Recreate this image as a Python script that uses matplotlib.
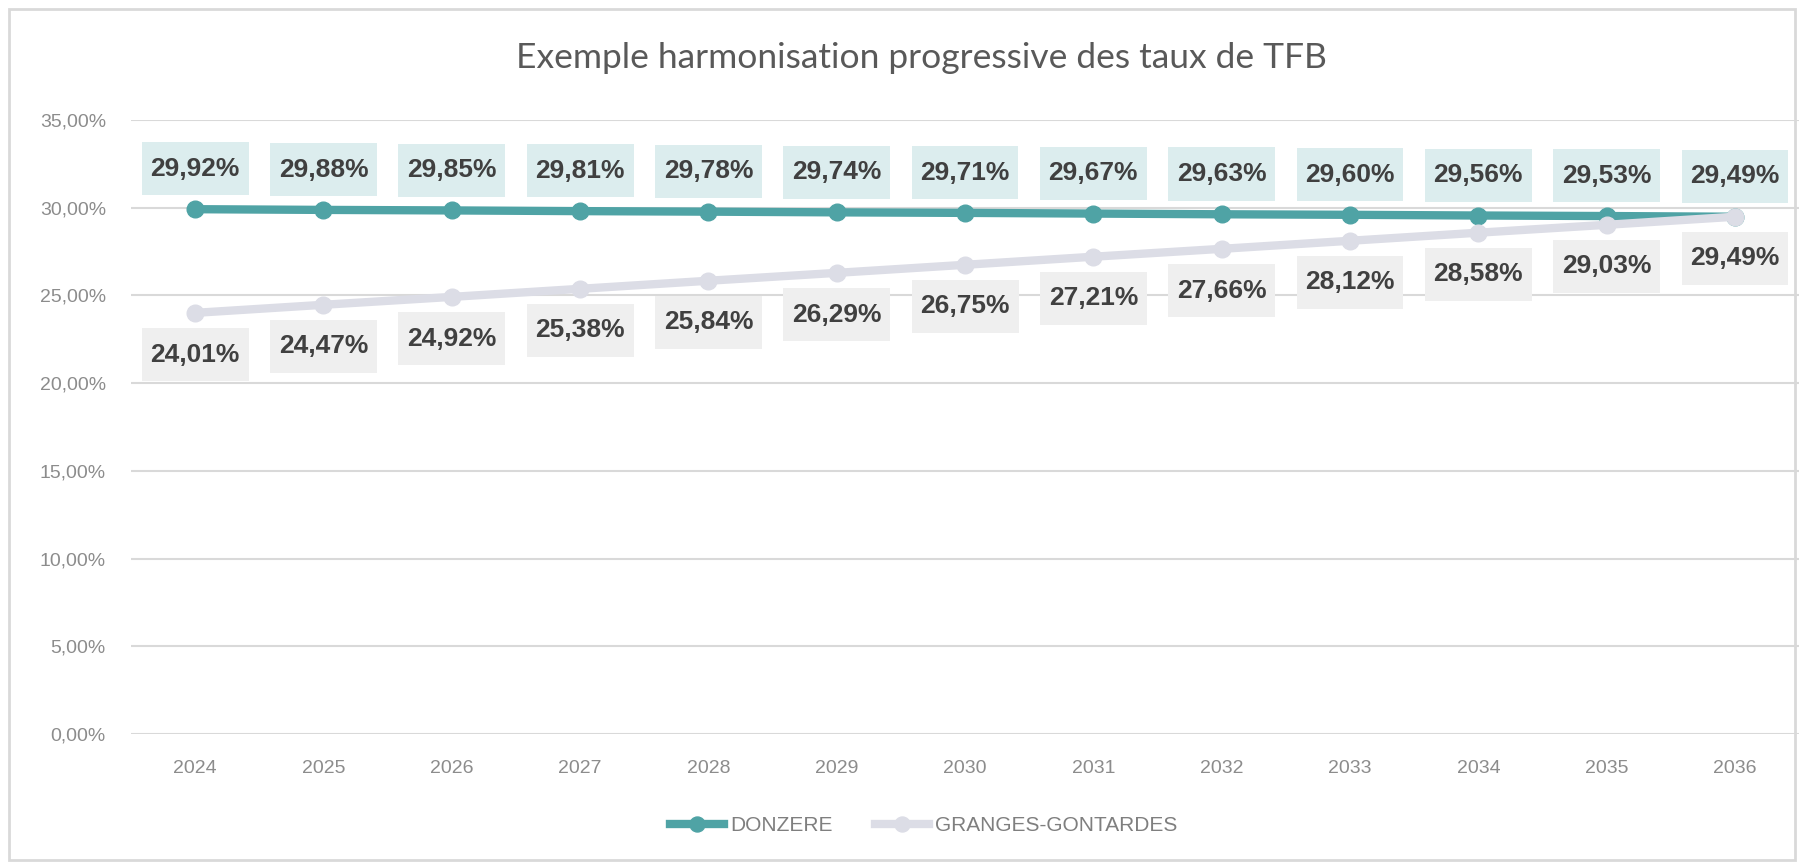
import matplotlib.pyplot as plt
from matplotlib.patches import Rectangle
from matplotlib.path import Path
from matplotlib.ticker import FuncFormatter

plt.rcParams['font.family'] = ['Liberation Sans', 'DejaVu Sans']

# data
years = ['2024', '2025', '2026', '2027', '2028', '2029', '2030',
         '2031', '2032', '2033', '2034', '2035', '2036']
donzere = [29.92, 29.88, 29.85, 29.81, 29.78, 29.74, 29.71,
           29.67, 29.63, 29.60, 29.56, 29.53, 29.49]
granges = [24.01, 24.47, 24.92, 25.38, 25.84, 26.29, 26.75,
           27.21, 27.66, 28.12, 28.58, 29.03, 29.49]
yticks = [0, 5, 10, 15, 20, 25, 30, 35]

teal = '#4fa3a5'
lav = '#dcdde6'


def fr(v):
    return f'{v:.2f}'.replace('.', ',') + '%'


# label box: a bit taller than wide padding, like the excel labels
def tallbox(x0, y0, width, height, mutation_size):
    px = 0.33 * mutation_size
    py = 0.55 * mutation_size
    x0, x1 = x0 - px, x0 + width + px
    y0, y1 = y0 - py, y0 + height + py
    return Path([(x0, y0), (x1, y0), (x1, y1), (x0, y1), (x0, y0)], closed=True)


fig = plt.figure(figsize=(18.04, 8.64), dpi=100)
fig.patches.append(Rectangle((0.005, 0.005), 0.99, 0.985, transform=fig.transFigure,
                             fill=False, edgecolor='#d9d9d9', linewidth=2))
ax = fig.add_axes([0.0726, 0.1505, 0.9247, 0.7105])

x = list(range(len(years)))
ax.plot(x, donzere, color=teal, lw=6, marker='o', ms=12, label='DONZERE', zorder=3)
ax.plot(x, granges, color=lav, lw=6, marker='o', ms=12, label='GRANGES-GONTARDES', zorder=3)

for i in x:
    ax.annotate(fr(donzere[i]), (i, donzere[i]), xytext=(0, 29), textcoords='offset points',
                ha='center', va='center', fontsize=19, fontweight='bold', color='#404040',
                bbox=dict(boxstyle=tallbox, fc='#dcedee', ec='none'), zorder=4)
    ax.annotate(fr(granges[i]), (i, granges[i]), xytext=(0, -30), textcoords='offset points',
                ha='center', va='center', fontsize=19, fontweight='bold', color='#404040',
                bbox=dict(boxstyle=tallbox, fc='#efefef', ec='none'), zorder=4)

ax.set_xlim(-0.5, len(years) - 0.5)
ax.set_ylim(0, 35)
ax.set_xticks(x)
ax.set_xticklabels(years)
ax.set_yticks(yticks)
ax.yaxis.set_major_formatter(FuncFormatter(lambda v, p: fr(v)))
ax.tick_params(length=0, labelsize=14, labelcolor='#8c8c8c')
ax.tick_params(axis='x', pad=19)
ax.tick_params(axis='y', pad=18)
ax.grid(axis='y', color='#d9d9d9', lw=1.5)
ax.set_axisbelow(True)
for s in ax.spines.values():
    s.set_visible(False)

fig.text(0.511, 0.933, 'Exemple harmonisation progressive des taux de TFB',
         ha='center', va='center', fontsize=25.5, color='#595959',
         family=['Lato', 'DejaVu Sans'])

fig.legend(loc='center', bbox_to_anchor=(0.512, 0.044), ncol=2, frameon=False,
           fontsize=15, labelcolor='#7f7f7f', handlelength=2.6, handletextpad=0.3,
           columnspacing=2.0, markerscale=0.9)

fig.savefig('out.png', dpi=100)
